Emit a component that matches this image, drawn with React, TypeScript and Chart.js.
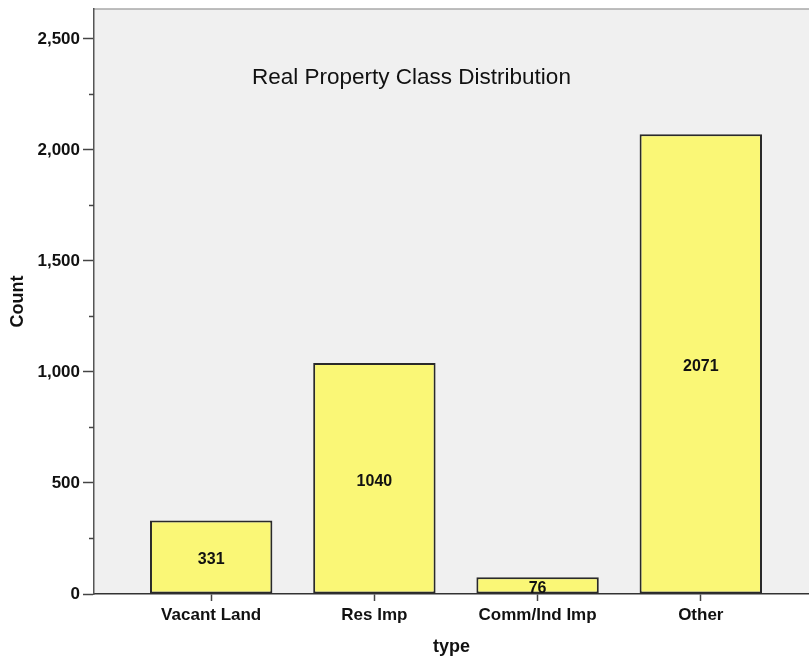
import React, { useEffect, useRef } from "react";
import { Chart, registerables } from "chart.js";

Chart.register(...registerables);

const categories: string[] = ["Vacant Land", "Res Imp", "Comm/Ind Imp", "Other"];
const counts: number[] = [331, 1040, 76, 2071];
const yTickValues: number[] = [0, 500, 1000, 1500, 2000, 2500];
const yMax = 2635;
const xMin = -0.718;
const xMax = 3.663;
const chartTitle = "Real Property Class Distribution";
const xAxisTitle = "type";
const yAxisTitle = "Count";

const FONT = "'Liberation Sans', Arial, Helvetica, sans-serif";

const decorPlugin = {
  id: "decor",
  beforeDraw(chart: any) {
    const { ctx, chartArea } = chart;
    ctx.save();
    ctx.fillStyle = "#f0f0f0";
    ctx.fillRect(chartArea.left, chartArea.top, chartArea.right - chartArea.left, chartArea.bottom - chartArea.top);
    ctx.strokeStyle = "#a8a8a8";
    ctx.lineWidth = 1.5;
    ctx.beginPath();
    ctx.moveTo(chartArea.left, chartArea.top);
    ctx.lineTo(chart.width, chartArea.top);
    ctx.stroke();
    ctx.restore();
  },
  afterDraw(chart: any) {
    const { ctx, chartArea } = chart;
    const yScale = chart.scales.y;
    ctx.save();
    // minor ticks
    ctx.strokeStyle = "#444";
    ctx.lineWidth = 1.5;
    const ticks = yScale.ticks;
    for (let i = 0; i < ticks.length - 1; i++) {
      const mid = (ticks[i].value + ticks[i + 1].value) / 2;
      const py = yScale.getPixelForValue(mid);
      ctx.beginPath();
      ctx.moveTo(chartArea.left - 5, py);
      ctx.lineTo(chartArea.left, py);
      ctx.stroke();
    }
    // title
    ctx.fillStyle = "#111";
    ctx.font = `normal 22.5px ${FONT}`;
    ctx.textAlign = "center";
    ctx.textBaseline = "middle";
    ctx.fillText(chartTitle, chartArea.left + (chartArea.right - chartArea.left) * 0.444, chartArea.top + 69);
    // value labels
    ctx.font = `bold 16px ${FONT}`;
    const meta = chart.getDatasetMeta(0);
    meta.data.forEach((bar: any, i: number) => {
      const p = bar.getProps(["x", "y", "base"], true);
      ctx.fillText(String(counts[i]), p.x, (p.y + p.base) / 2 + 3);
    });
    ctx.restore();
  },
};

export default function App() {
  const ref = useRef<HTMLCanvasElement | null>(null);
  useEffect(() => {
    if (!ref.current) return;
    const chart = new Chart(ref.current, {
      type: "bar",
      data: {
        datasets: [
          {
            data: categories.map((c, i) => ({ x: i, y: counts[i] })),
            backgroundColor: "#faf776",
            borderColor: "#2a2a2a",
            borderWidth: 2,
            borderSkipped: false,
            barPercentage: 0.75,
            categoryPercentage: 1,
          } as any,
        ],
      },
      plugins: [decorPlugin],
      options: {
        animation: false,
        responsive: true,
        maintainAspectRatio: false,
        layout: { padding: { top: 9, left: 0, right: 0, bottom: 0 } },
        plugins: { legend: { display: false }, tooltip: { enabled: false }, title: { display: false } },
        scales: {
          x: {
            type: "linear",
            min: xMin,
            max: xMax,
            offset: false,
            afterBuildTicks: (scale: any) => {
              scale.ticks = categories.map((_, i) => ({ value: i }));
            },
            afterFit: (scale: any) => {
              scale.height = 64;
              scale.paddingLeft = 0;
              scale.paddingRight = 0;
            },
            grid: { offset: false, drawOnChartArea: false, drawTicks: true, tickLength: 7, tickColor: "#444", tickWidth: 1.5 },
            border: { display: true, color: "#333", width: 1.5 },
            ticks: {
              padding: 4,
              color: "#111",
              autoSkip: false,
              maxRotation: 0,
              font: { family: FONT, size: 17, weight: "bold" },
              callback: (v: any) => categories[Math.round(Number(v))] ?? "",
            },
            title: {
              display: true,
              text: xAxisTitle,
              color: "#111",
              font: { family: FONT, size: 18, weight: "bold", lineHeight: 1 },
              padding: { top: 0, bottom: 2 },
            },
          },
          y: {
            type: "linear",
            min: 0,
            max: yMax,
            afterBuildTicks: (scale: any) => {
              scale.ticks = yTickValues.map((v) => ({ value: v }));
            },
            afterFit: (scale: any) => {
              scale.width = 94;
              scale.paddingTop = 0;
              scale.paddingBottom = 0;
            },
            grid: { drawOnChartArea: false, drawTicks: true, tickLength: 11, tickColor: "#444", tickWidth: 1.5 },
            border: { display: true, color: "#555", width: 1.5 },
            ticks: {
              padding: 3,
              color: "#111",
              autoSkip: false,
              font: { family: FONT, size: 17, weight: "bold" },
              callback: (v: any) => Number(v).toLocaleString("en-US"),
            },
            title: {
              display: true,
              text: yAxisTitle,
              color: "#111",
              font: { family: FONT, size: 18, weight: "bold", lineHeight: 1 },
              padding: { top: 9, bottom: 0 },
            },
          },
        },
      } as any,
    });
    return () => chart.destroy();
  }, []);
  return (
    <div style={{ position: "absolute", left: 0, top: 0, width: 809, height: 658, background: "#fff" }}>
      <canvas ref={ref} />
    </div>
  );
}
